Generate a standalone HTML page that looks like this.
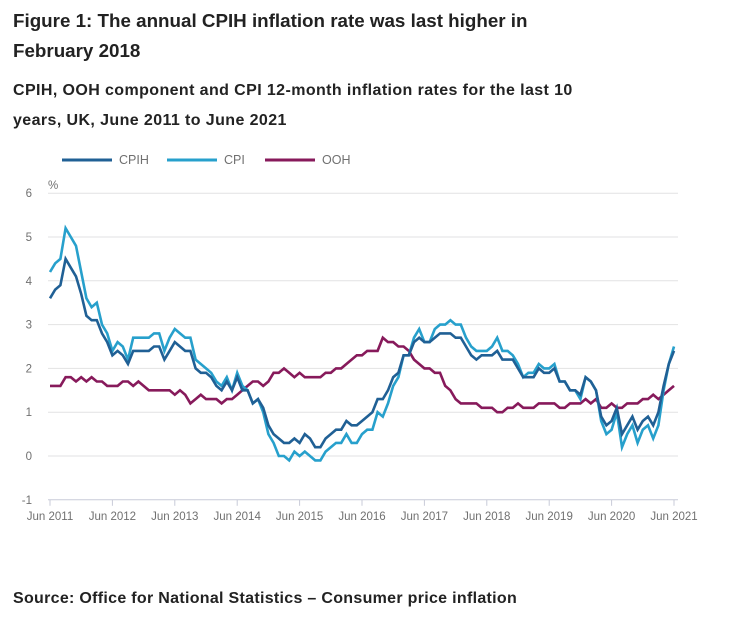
<!DOCTYPE html>
<html><head><meta charset="utf-8"><style>
body{margin:0;background:#fff;font-family:"Liberation Sans",sans-serif;}
.t{position:absolute;left:13px;color:#222;font-weight:bold;}
</style></head><body>
<div style="position:relative;width:733px;height:620px;overflow:hidden">
<div class="t" style="top:6px;font-size:18.8px;line-height:30px">Figure 1: The annual CPIH inflation rate was last higher in<br>February 2018</div>
<div class="t" style="top:76px;font-size:16px;letter-spacing:0.4px;line-height:30px">CPIH, OOH component and CPI 12-month inflation rates for the last 10<br>years, UK, June 2011 to June 2021</div>
<div class="t" style="top:590px;font-size:16px;letter-spacing:0.3px">Source: Office for National Statistics – Consumer price inflation</div>
<svg id="chart" width="733" height="620" style="position:absolute;left:0;top:0" font-family="Liberation Sans, sans-serif"></svg>
</div>
<script>
const yTicks=[-1,0,1,2,3,4,5,6];
const xTickLabels=["Jun 2011","Jun 2012","Jun 2013","Jun 2014","Jun 2015","Jun 2016","Jun 2017","Jun 2018","Jun 2019","Jun 2020","Jun 2021"];
const seriesNames=["CPIH","CPI","OOH"];
const cpih=[3.6,3.8,3.9,4.5,4.3,4.1,3.7,
3.2,3.1,3.1,2.8,2.6,2.3,2.4,2.3,2.1,2.4,2.4,2.4,
2.4,2.5,2.5,2.2,2.4,2.6,2.5,2.4,2.4,2.0,1.9,1.9,
1.8,1.6,1.5,1.7,1.5,1.8,1.5,1.5,1.2,1.3,1.1,0.7,
0.5,0.4,0.3,0.3,0.4,0.3,0.5,0.4,0.2,0.2,0.4,0.5,
0.6,0.6,0.8,0.7,0.7,0.8,0.9,1.0,1.3,1.3,1.5,1.8,
1.9,2.3,2.3,2.6,2.7,2.6,2.6,2.7,2.8,2.8,2.8,2.7,
2.7,2.5,2.3,2.2,2.3,2.3,2.3,2.4,2.2,2.2,2.2,2.0,
1.8,1.8,1.8,2.0,1.9,1.9,2.0,1.7,1.7,1.5,1.5,1.4,
1.8,1.7,1.5,0.9,0.7,0.8,1.1,0.5,0.7,0.9,0.6,0.8,
0.9,0.7,1.0,1.6,2.1,2.4];
const cpi=[4.2,4.4,4.5,5.2,5.0,4.8,4.2,
3.6,3.4,3.5,3.0,2.8,2.4,2.6,2.5,2.2,2.7,2.7,2.7,
2.7,2.8,2.8,2.4,2.7,2.9,2.8,2.7,2.7,2.2,2.1,2.0,
1.9,1.7,1.6,1.8,1.5,1.9,1.6,1.5,1.2,1.3,1.0,0.5,
0.3,0.0,0.0,-0.1,0.1,0.0,0.1,0.0,-0.1,-0.1,0.1,0.2,
0.3,0.3,0.5,0.3,0.3,0.5,0.6,0.6,1.0,0.9,1.2,1.6,
1.8,2.3,2.3,2.7,2.9,2.6,2.6,2.9,3.0,3.0,3.1,3.0,
3.0,2.7,2.5,2.4,2.4,2.4,2.5,2.7,2.4,2.4,2.3,2.1,
1.8,1.9,1.9,2.1,2.0,2.0,2.1,1.7,1.7,1.5,1.5,1.3,
1.8,1.7,1.5,0.8,0.5,0.6,1.0,0.2,0.5,0.7,0.3,0.6,
0.7,0.4,0.7,1.5,2.1,2.5];
const ooh=[1.6,1.6,1.6,1.8,1.8,1.7,1.8,
1.7,1.8,1.7,1.7,1.6,1.6,1.6,1.7,1.7,1.6,1.7,1.6,
1.5,1.5,1.5,1.5,1.5,1.4,1.5,1.4,1.2,1.3,1.4,1.3,
1.3,1.3,1.2,1.3,1.3,1.4,1.5,1.6,1.7,1.7,1.6,1.7,
1.9,1.9,2.0,1.9,1.8,1.9,1.8,1.8,1.8,1.8,1.9,1.9,
2.0,2.0,2.1,2.2,2.3,2.3,2.4,2.4,2.4,2.7,2.6,2.6,
2.5,2.5,2.4,2.2,2.1,2.0,2.0,1.9,1.9,1.6,1.5,1.3,
1.2,1.2,1.2,1.2,1.1,1.1,1.1,1.0,1.0,1.1,1.1,1.2,
1.1,1.1,1.1,1.2,1.2,1.2,1.2,1.1,1.1,1.2,1.2,1.2,
1.3,1.2,1.3,1.1,1.1,1.2,1.1,1.1,1.2,1.2,1.2,1.3,
1.3,1.4,1.3,1.4,1.5,1.6];
const colors=["#206095","#27a0cc","#871a5b"];
const svg=document.getElementById('chart');
const NS="http://www.w3.org/2000/svg";
const X0=50,X1=674,Y0=456,PU=43.8;
const N=cpih.length;
const xs=i=>X0+(X1-X0)*i/(N-1);
const ys=v=>Y0-v*PU;
function mk(tag,a){const e=document.createElementNS(NS,tag);for(const k in a)e.setAttribute(k,a[k]);svg.appendChild(e);return e;}
yTicks.forEach(v=>{
  const g=mk('line',{x1:48,x2:678,y1:ys(v),y2:ys(v),stroke:v===-1?'#c8cbd8':'#e2e2e3','stroke-width':1});
  
  
  const t=mk('text',{x:32,y:ys(v)+4,'text-anchor':'end','font-size':11.5,fill:'#707070'});t.textContent=v;
  
  
});
const pct=mk('text',{x:48,y:189,'font-size':11.5,fill:'#707070'});pct.textContent='%';


xTickLabels.forEach((l,i)=>{
  const x=xs(i*12);
  const tk=mk('line',{x1:x,x2:x,y1:ys(-1),y2:ys(-1)+6,stroke:'#c8cbd8'});
  
  
  const t=mk('text',{x:x,y:520,'text-anchor':'middle','font-size':11.5,fill:'#707070'});t.textContent=l;
  
  
});
const order=[2,1,0];
const data=[cpih,cpi,ooh];
order.forEach(k=>{
  const d=data[k].map((v,i)=>(i?'L':'M')+xs(i).toFixed(1)+','+ys(v).toFixed(1)).join('');
  const p=mk('path',{d:d,fill:'none',stroke:colors[k],'stroke-width':2.6,'stroke-linejoin':'miter'});
  
  
});
const lxs=[62,167,265];
seriesNames.forEach((n,k)=>{
  const x=lxs[k];
  const l=mk('line',{x1:x,x2:x+50,y1:160,y2:160,stroke:colors[k],'stroke-width':3});
  
  
  const t=mk('text',{x:x+57,y:164,'font-size':12.5,fill:'#707070'});t.textContent=n;
  
  
});
</script>
</body></html>
